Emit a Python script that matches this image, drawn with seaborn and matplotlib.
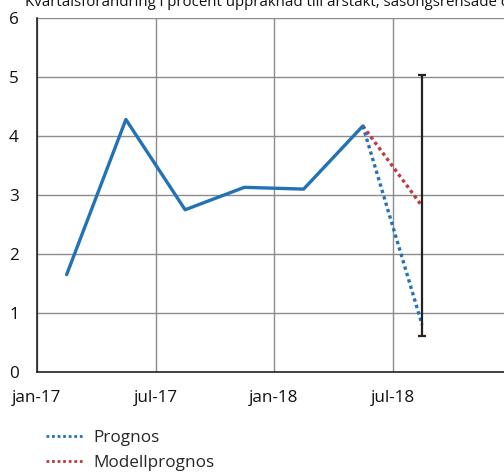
import matplotlib
matplotlib.use("Agg")
import matplotlib.pyplot as plt
import seaborn as sns
import pandas as pd
from matplotlib.lines import Line2D

sns.set_style("white")
plt.rcParams['font.family'] = ['Open Sans', 'DejaVu Sans']

# Data (months since jan-17, mid-quarter positions)
quarters_x = [1.5, 4.5, 7.5, 10.5, 13.5, 16.5]
outcome = [1.65, 4.28, 2.75, 3.13, 3.10, 4.17]
prognos_x = [16.5, 19.5]
prognos = [4.17, 0.80]
modell_x = [16.5, 19.5]
modell = [4.17, 2.81]
interval_x = 19.5
interval_low = 0.61
interval_high = 5.04
tick_pos = [0, 6, 12, 18]
tick_labels = ["jan-17", "jul-17", "jan-18", "jul-18"]
title = "Kvartalsförändring i procent uppräknad till årstakt, säsongsrensade data"

blue = "#2372B5"
red = "#BE3A3C"

fig = plt.figure(figsize=(5.04, 4.72), dpi=100)
W, H = 504, 472
left, right, top, bottom = 37, 511, 18, 372
ax = fig.add_axes([left / W, 1 - bottom / H, (right - left) / W, (bottom - top) / H])

df_out = pd.DataFrame({"x": quarters_x, "y": outcome})
df_prog = pd.DataFrame({"x": prognos_x, "y": prognos})
df_mod = pd.DataFrame({"x": modell_x, "y": modell})

sns.lineplot(data=df_out, x="x", y="y", ax=ax, color=blue, lw=2.4, legend=False)
sns.lineplot(data=df_mod, x="x", y="y", ax=ax, color=red, lw=2.4, linestyle=(0, (1, 1)), legend=False)
sns.lineplot(data=df_prog, x="x", y="y", ax=ax, color=blue, lw=2.4, linestyle=(0, (1, 1)), legend=False)

mid = (interval_low + interval_high) / 2
ax.errorbar([interval_x], [mid],
            yerr=[[mid - interval_low], [interval_high - mid]],
            fmt='none', ecolor='#222222', elinewidth=1.6, capsize=3, capthick=1.6)

ax.set_xlim(0, 24)
ax.set_ylim(0, 6)
ax.set_xticks(tick_pos)
ax.set_xticklabels(tick_labels)
ax.set_yticks(range(0, 7))
ax.set_xlabel("")
ax.set_ylabel("")
ax.grid(True, color="#8c8c8c", lw=1.0)
ax.set_axisbelow(True)
for s in ["top", "right"]:
    ax.spines[s].set_visible(False)
ax.spines["left"].set_color("#222222")
ax.spines["bottom"].set_color("#222222")
ax.spines["left"].set_linewidth(1.2)
ax.spines["bottom"].set_linewidth(1.2)
ax.tick_params(axis='both', length=0, labelsize=12.3, colors="#111111")
ax.tick_params(axis='y', pad=13)
ax.tick_params(axis='x', pad=13)

fig.text(25 / W, 1 - 6 / H, title, fontsize=10.8, va='baseline', ha='left', color="#111111")

handles = [Line2D([], [], color=blue, lw=2.0, linestyle=(0, (1, 1))),
           Line2D([], [], color=red, lw=2.0, linestyle=(0, (1, 1)))]
fig.legend(handles, ["Prognos", "Modellprognos"], loc='upper left',
           bbox_to_anchor=(46 / W, 1 - 430 / H), frameon=False, fontsize=12.3,
           handlelength=2.15, handletextpad=0.65, labelspacing=0.52, borderaxespad=0,
           borderpad=0, handleheight=0.7)

fig.savefig("out.png", dpi=100)
